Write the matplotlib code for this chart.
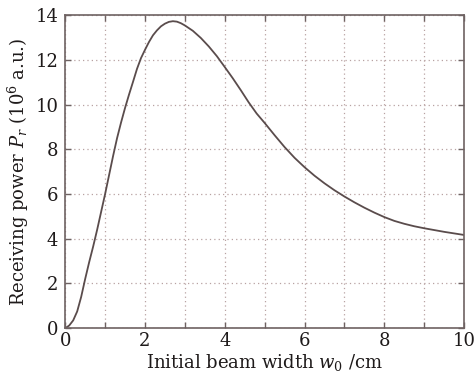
import matplotlib
matplotlib.use("Agg")
import matplotlib.pyplot as plt
from matplotlib.ticker import MultipleLocator

# Received power versus initial beam width
beam_width_cm = [0, 0.1, 0.2, 0.3, 0.4, 0.5, 0.6, 0.7, 0.8, 0.9, 1.0, 1.1, 1.2,
                 1.3, 1.4, 1.5, 1.6, 1.7, 1.8, 1.9, 2.0, 2.1, 2.2, 2.3, 2.4, 2.5,
                 2.6, 2.7, 2.8, 2.9, 3.0, 3.2, 3.4, 3.6, 3.8, 4.0, 4.2, 4.4, 4.6,
                 4.8, 5.0, 5.25, 5.5, 5.75, 6.0, 6.25, 6.5, 6.75, 7.0, 7.25, 7.5,
                 7.75, 8.0, 8.25, 8.5, 8.75, 9.0, 9.25, 9.5, 9.75, 10.0]
received_power = [0, 0.12, 0.35, 0.75, 1.4, 2.2, 2.95, 3.65, 4.4, 5.2, 6.0, 6.85,
                  7.7, 8.5, 9.2, 9.85, 10.45, 11.02, 11.6, 12.08, 12.45, 12.8,
                  13.1, 13.32, 13.5, 13.62, 13.7, 13.73, 13.71, 13.64, 13.54,
                  13.3, 12.98, 12.6, 12.17, 11.68, 11.18, 10.65, 10.1, 9.6, 9.18,
                  8.63, 8.1, 7.62, 7.2, 6.82, 6.48, 6.17, 5.89, 5.63, 5.39, 5.17,
                  4.97, 4.8, 4.67, 4.56, 4.47, 4.39, 4.31, 4.24, 4.17]
x_ticks = [0, 2, 4, 6, 8, 10]
y_ticks = [0, 2, 4, 6, 8, 10, 12, 14]

plt.rcParams["font.family"] = ["DejaVu Serif"]
plt.rcParams["mathtext.fontset"] = "dejavuserif"

text_color = "#1e1a1a"
frame_color = "#6e6262"
grid_color = "#b8a2a2"
line_color = "#5a4c4c"

fig = plt.figure(figsize=(4.76, 3.79), dpi=100)
ax = fig.add_axes([0.137, 0.134, 0.838, 0.826])

ax.plot(beam_width_cm, received_power, color=line_color, lw=1.3)

ax.set_xlim(0, 10)
ax.set_ylim(0, 14)
ax.set_xticks(x_ticks)
ax.set_yticks(y_ticks)
ax.xaxis.set_minor_locator(MultipleLocator(1))

ax.grid(True, which="both", axis="x", linestyle=(0, (1, 2.5)), color=grid_color, lw=0.9)
ax.grid(True, which="major", axis="y", linestyle=(0, (1, 2.5)), color=grid_color, lw=0.9)

for side in ax.spines.values():
    side.set_color(frame_color)
    side.set_linewidth(1.2)

ax.tick_params(which="both", direction="in", top=True, right=True,
               color=frame_color, width=1.0, labelsize=13, labelcolor=text_color)
ax.tick_params(which="major", length=4)
ax.tick_params(which="minor", length=4)
ax.tick_params(axis="x", pad=3)
ax.tick_params(axis="y", pad=5)

ax.set_xlabel(r"Initial beam width $w_0$ /cm", fontsize=13, color=text_color, labelpad=1)
ax.set_ylabel(r"Receiving power $P_r$ ($10^6$ a.u.)", fontsize=13, color=text_color, labelpad=3)

fig.savefig("out.png", dpi=100)
